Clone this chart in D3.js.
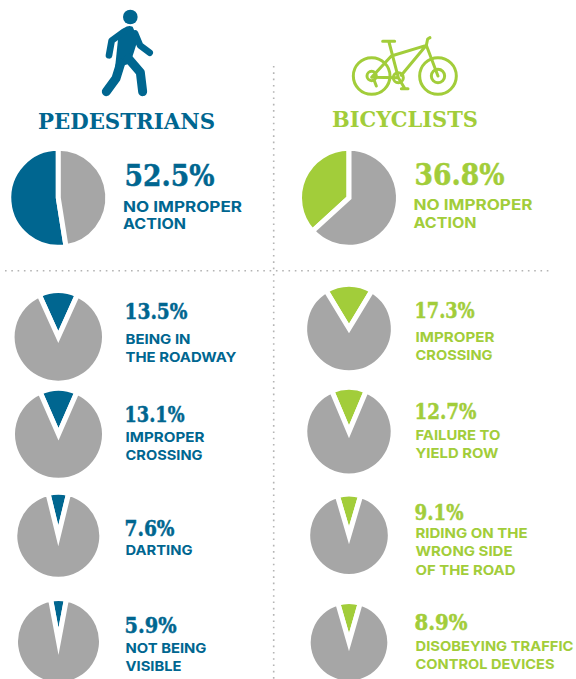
<!DOCTYPE html>
<html>
<head>
<meta charset="utf-8">
<script src="https://cdn.jsdelivr.net/npm/d3@7/dist/d3.min.js"></script>
<style>
html,body{margin:0;padding:0;background:#fff;overflow:hidden}
svg{display:block}
.pct{font-family:"DejaVu Serif",serif;font-weight:700;paint-order:stroke;stroke-width:.5px}
.lab{font-family:Inter,sans-serif;font-weight:700}
.ttl{font-family:"DejaVu Serif",serif;font-weight:700}
</style>
</head>
<body>
<svg id="c" width="576" height="679"></svg>
<script>
// ---------- data ----------
const groupTitles = ["PEDESTRIANS", "BICYCLISTS"];
const pedestrianValues = [52.5, 13.5, 13.1, 7.6, 5.9];
const pedestrianLabels = [["NO IMPROPER","ACTION"],["BEING IN","THE ROADWAY"],["IMPROPER","CROSSING"],["DARTING"],["NOT BEING","VISIBLE"]];
const bicyclistValues = [36.8, 17.3, 12.7, 9.1, 8.9];
const bicyclistLabels = [["NO IMPROPER","ACTION"],["IMPROPER","CROSSING"],["FAILURE TO","YIELD ROW"],["RIDING ON THE","WRONG SIDE","OF THE ROAD"],["DISOBEYING TRAFFIC","CONTROL DEVICES"]];

// ---------- layout ----------
const BLUE="#006690", GREEN="#a2cd3a", GREY="#a6a6a6";
const GAP=5;
const svg=d3.select("#c");

const layouts=[
 {color:BLUE, cx:[58.3,58.3,58.5,58.3,58.5], cy:[197.8,337,434.3,535.8,641.5], r:[47,43.7,43.5,41,40.5],
  pctX:124.5, pctBase:[186,319.3,421.7,535.7,633.3], pctW:[90,63,60,50,52],
  labX:[123,125.5,125.5,125.5,125.5], labBase:[[211.7,229.3],[344,361.7],[442.3,460],[555.3],[653.3,671]],
  labW:[[119,63],[65,111],[79,77],[67],[81,56]]},
 {color:GREEN, cx:[349,349,349,349,349], cy:[197.8,328.5,431.7,535.3,642.3], r:[47,41.8,41.7,38.8,38.3],
  pctX:414.5, pctBase:[185,318.3,419.3,520,630], pctW:[90,60,62,49,53],
  labX:[413.5,415.5,415.5,415.5,415.5], labBase:[[210,227.7],[342.3,360],[440,458.3],[538.3,556.3,575],[650.7,669]],
  labW:[[119,63],[79,77],[85,83],[112,97,100],[158,139]]}
];
const titleLayout=[{x:38,w:177,base:129},{x:332,w:146,base:126.7}];

// dotted rules
const dots=(x1,y1,x2,y2)=>svg.append("line").attr("x1",x1).attr("y1",y1).attr("x2",x2).attr("y2",y2)
  .attr("stroke","#b4b4b4").attr("stroke-width",1.6).attr("stroke-dasharray","1.6 4.7");
dots(273.7,66,273.7,679);
dots(5,270.7,550,270.7);

const shareScale=d3.scaleLinear().domain([0,100]).range([0,2*Math.PI]);

function drawGroup(values,labels,L,gi){
  const g=svg.append("g");
  values.forEach((v,i)=>{
    const sweep=shareScale(v);
    // first pie: coloured share ends at 12 o'clock; others: centred on 12 o'clock
    const start = i===0 ? -sweep : -sweep/2;
    const pie=d3.pie().sort(null).value(d=>d.v).startAngle(start).endAngle(start+2*Math.PI);
    const arc=d3.arc().innerRadius(0).outerRadius(L.r[i]+GAP/2);
    const slices=[{v:v,c:L.color},{v:100-v,c:GREY}];
    g.append("g").attr("transform",`translate(${L.cx[i]},${L.cy[i]})`)
      .selectAll("path").data(pie(slices)).join("path")
      .attr("d",arc).attr("fill",d=>d.data.c)
      .attr("stroke","#fff").attr("stroke-width",GAP)
      .attr("stroke-linejoin","miter").attr("stroke-miterlimit",30);
    const big=i===0;
    g.append("text").attr("class","pct").attr("x",L.pctX).attr("y",L.pctBase[i])
      .attr("fill",L.color).attr("stroke",L.color).attr("font-size",big?30:21.5)
      .attr("textLength",L.pctW[i]).attr("lengthAdjust","spacingAndGlyphs")
      .text(v.toFixed(1)+"%");
    labels[i].forEach((t,j)=>{
      g.append("text").attr("class","lab").attr("x",L.labX[i]).attr("y",L.labBase[i][j])
        .attr("fill",L.color).attr("font-size",big?14.5:13.5)
        .attr("textLength",L.labW[i][j]).attr("lengthAdjust","spacingAndGlyphs")
        .text(t);
    });
  });
  const T=titleLayout[gi];
  svg.append("text").attr("class","ttl").attr("x",T.x).attr("y",T.base).attr("fill",L.color)
    .attr("font-size",23).attr("textLength",T.w).attr("lengthAdjust","spacingAndGlyphs").text(groupTitles[gi]);
}
drawGroup(pedestrianValues,pedestrianLabels,layouts[0],0);
drawGroup(bicyclistValues,bicyclistLabels,layouts[1],1);

// pedestrian icon (coordinates of the 3x crop)
const ped=svg.append("g").attr("transform","scale(0.3333)").attr("fill","none").attr("stroke",BLUE)
  .attr("stroke-linecap","round").attr("stroke-linejoin","round");
ped.append("circle").attr("cx",391).attr("cy",51).attr("r",22).attr("fill",BLUE).attr("stroke","none");
ped.append("path").attr("d","M372,84 Q385,74 398,80 L414,118 L398,168 L385,192 L345,205 L356,100 Z").attr("fill",BLUE).attr("stroke","none");
ped.append("path").attr("d","M372,95 L335,122 L327,166").attr("stroke-width",20);
ped.append("path").attr("d","M405,100 L420,136 L449,158").attr("stroke-width",20);
ped.append("path").attr("d","M385,175 L421,217 L428,275").attr("stroke-width",27);
ped.append("path").attr("d","M362,190 L348,235 L319,275").attr("stroke-width",27);

// bicycle icon (coordinates of the 3x crop, offset 288)
const bike=svg.append("g").attr("transform","translate(288,0) scale(0.3333)").attr("fill","none").attr("stroke",GREEN)
  .attr("stroke-width",9).attr("stroke-linecap","round").attr("stroke-linejoin","round");
[[251,228,55],[251,228,14],[450,228,55],[450,228,20],[331,233,15]].forEach(c=>
  bike.append("circle").attr("cx",c[0]).attr("cy",c[1]).attr("r",c[2]));
bike.append("path").attr("d","M284,124 H320 M303,126 L331,233 L251,232 L310,168 L415,136 L450,228 M415,136 L340,226 M331,233 L350,265 M340,266 H360 M415,136 L419,117 L426,113 M255,232 L265,258");
</script>
</body>
</html>
